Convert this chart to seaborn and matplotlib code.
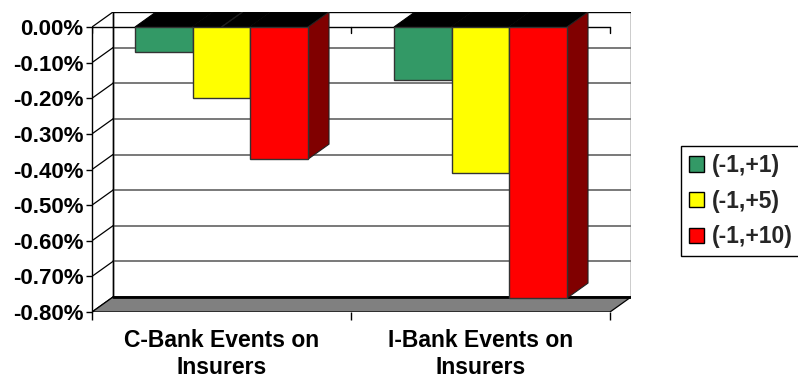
import matplotlib
matplotlib.use("Agg")
import matplotlib.pyplot as plt
from matplotlib.patches import Polygon, Rectangle
from matplotlib.colors import to_rgb
from matplotlib.ticker import FuncFormatter
import seaborn as sns
import pandas as pd

# Cumulative abnormal returns (%) by event group and event window
groups = ["C-Bank Events on\nInsurers", "I-Bank Events on\nInsurers"]
windows = ["(-1,+1)", "(-1,+5)", "(-1,+10)"]
car_1_1 = [-0.07, -0.149]
car_1_5 = [-0.199, -0.41]
car_1_10 = [-0.371, -0.761]
y_ticks = [0.0, -0.1, -0.2, -0.3, -0.4, -0.5, -0.6, -0.7, -0.8]

front_colors = ["#339966", "#FFFF00", "#FF0000"]
side_colors = ["#1a4d33", "#808000", "#800000"]

df = pd.DataFrame({
    "group": groups * 3,
    "window": [w for w in windows for _ in groups],
    "value": car_1_1 + car_1_5 + car_1_10,
})

sns.set_theme(style="white")
plt.rcParams["font.family"] = ["Liberation Sans", "DejaVu Sans"]
plt.rcParams["font.weight"] = "bold"

W, H = 798, 379
fig = plt.figure(figsize=(W / 100, H / 100), dpi=100)
fig.patch.set_facecolor("white")

# axes spans the front plane plus the depth offset of the 3-D box
x_left, x_right, y_top, y_bottom = 92, 631, 12, 312
ax = fig.add_axes([x_left / W, 1 - y_bottom / H, (x_right - x_left) / W, (y_bottom - y_top) / H])
ax.set_facecolor("none")

px_per_cat = 259.0
px_per_unit = 285.0 / 0.8
dx = 21 / px_per_cat
dy = 15 / px_per_unit
ymin = -0.8

sns.barplot(data=df, x="group", y="value", hue="window", hue_order=windows,
            palette=front_colors, width=0.668, gap=0, errorbar=None,
            edgecolor="#333333", linewidth=1.0, saturation=1, legend=True,
            ax=ax, zorder=4)
ax.set_xlim(-0.5, 1.5 + dx)
ax.set_ylim(ymin, dy)

# back wall, left wall and floor
xl, xr = -0.5, 1.5
ax.add_patch(Rectangle((xl + dx, ymin + dy), xr - xl, -ymin, facecolor="white",
                       edgecolor="black", linewidth=1.0, zorder=0))
for v in y_ticks[1:-1]:
    ax.plot([xl + dx, xr + dx], [v + dy, v + dy], color="#6e6e6e", lw=1.3, zorder=0.5)
for v in y_ticks:
    ax.plot([xl, xl + dx], [v, v + dy], color="black", lw=0.9, zorder=0.5)
ax.plot([xl + dx, xl + dx], [ymin + dy, dy], color="black", lw=1.0, zorder=0.6)
ax.add_patch(Polygon([(xl, ymin), (xr, ymin), (xr + dx, ymin + dy), (xl + dx, ymin + dy)],
                     closed=True, facecolor="#808080", edgecolor="black", linewidth=0.9, zorder=1))
ax.plot([xl + dx, xr + dx], [ymin + dy, ymin + dy], color="black", lw=2.0, zorder=1.1)

# category axis line at zero with boundary ticks
tick_len = 6 / px_per_unit
ax.plot([xl, xr], [0, 0], color="black", lw=1.0, zorder=1.5)
for xb in [-0.5, 0.5, 1.5]:
    ax.plot([xb, xb], [0, -tick_len], color="black", lw=1.0, zorder=1.5)

# 3-D tops and sides for every bar
bars = [p for p in ax.patches if isinstance(p, Rectangle) and p.get_zorder() == 4]
for p in bars:
    x0 = p.get_x()
    x1 = x0 + p.get_width()
    val = p.get_y() + p.get_height()
    fc = p.get_facecolor()[:3]
    idx = min(range(3), key=lambda i: sum(abs(a - b) for a, b in zip(to_rgb(front_colors[i]), fc)))
    ax.add_patch(Polygon([(x0, 0), (x1, 0), (x1 + dx, dy), (x0 + dx, dy)], closed=True,
                         facecolor="black", edgecolor="black", linewidth=0.8, zorder=3))
    ax.add_patch(Polygon([(x1, 0), (x1 + dx, dy), (x1 + dx, val + dy), (x1, val)], closed=True,
                         facecolor=side_colors[idx], edgecolor="#222222", linewidth=0.8, zorder=3))

# axes, ticks and labels
for s in ["top", "right", "bottom"]:
    ax.spines[s].set_visible(False)
ax.spines["left"].set_bounds(ymin, 0)
ax.spines["left"].set_color("black")
ax.spines["left"].set_linewidth(1.0)
ax.set_yticks(y_ticks)
ax.yaxis.set_major_formatter(FuncFormatter(lambda v, _: f"{v:.2f}%"))
ax.tick_params(axis="y", left=True, length=4, width=1, color="black", pad=2,
               labelsize=16, labelcolor="black")
ax.set_xticks([0, 1])
ax.set_xticklabels(groups, fontsize=16.5, fontweight="bold", linespacing=1.22)
ax.set_xticks([-0.5, 0.5, 1.5], minor=True)
ax.tick_params(axis="x", which="major", bottom=True, length=0, pad=12, labelcolor="black")
ax.tick_params(axis="x", which="minor", bottom=True, length=6, width=1, color="black")
ax.set_xlabel("")
ax.set_ylabel("")
for lbl in ax.get_yticklabels():
    lbl.set_fontweight("bold")

leg = ax.get_legend()
handles = leg.legend_handles
leg.remove()
for h in handles:
    h.set_edgecolor("black")
    h.set_linewidth(1.0)
fig.legend(handles, windows, loc="upper left", bbox_to_anchor=(681 / W, 1 - 146 / H),
           frameon=True, fancybox=False, edgecolor="black", framealpha=1,
           prop={"size": 16.5, "weight": "bold"}, handlelength=0.65, handleheight=0.65,
           handletextpad=0.35, labelspacing=0.55, borderpad=0.35, borderaxespad=0)

fig.savefig("out.png", dpi=100, facecolor="white")
